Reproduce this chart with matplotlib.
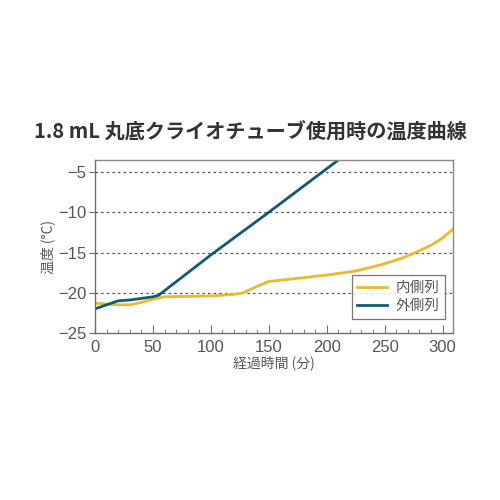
import matplotlib.pyplot as plt
from matplotlib.ticker import MultipleLocator

plt.rcParams["font.family"] = ["Noto Sans CJK JP", "DejaVu Sans"]

# data
t_outer = [0, 10, 20, 30, 40, 50, 55, 100, 150, 210]
temp_outer = [-22.0, -21.5, -21.0, -20.9, -20.7, -20.5, -20.3, -15.3, -10.0, -3.5]

t_inner = [0, 10, 20, 30, 40, 50, 60, 80, 100, 120, 128, 140, 150, 175, 200, 225,
           250, 265, 275, 290, 300, 309]
temp_inner = [-21.3, -21.4, -21.5, -21.5, -21.2, -20.8, -20.5, -20.45, -20.4, -20.2,
              -20.0, -19.2, -18.6, -18.2, -17.8, -17.3, -16.4, -15.7, -15.1, -14.1,
              -13.2, -12.1]

series_labels = ["内側列", "外側列"]
yellow = "#EAB92E"
teal = "#0F5B6D"
grey = "#6E6E6E"

fig = plt.figure(figsize=(5, 5), dpi=100)
ax = fig.add_axes([0.19, 0.334, 0.716, 0.346])

ax.plot(t_inner, temp_inner, color=yellow, lw=2, label=series_labels[0])
ax.plot(t_outer, temp_outer, color=teal, lw=2, label=series_labels[1])

ax.set_xlim(0, 309)
ax.set_ylim(-25, -3.5)
ax.set_xticks([0, 50, 100, 150, 200, 250, 300])
ax.xaxis.set_minor_locator(MultipleLocator(10))
ax.set_yticks([-25, -20, -15, -10, -5])
ax.set_yticklabels(["\u221225", "\u221220", "\u221215", "\u221210", "\u22125"])

for y in [-20, -15, -10, -5]:
    ax.axhline(y, color="#555555", lw=0.9, ls=(0, (2, 2.5)), zorder=0)

for s in ax.spines.values():
    s.set_color("#888888")
    s.set_linewidth(1.0)
ax.spines["left"].set_color(grey)
ax.spines["bottom"].set_color(grey)

ax.tick_params(axis="x", which="major", direction="in", length=6, color=grey,
               labelsize=12, labelcolor="#555555", pad=5)
ax.tick_params(axis="x", which="minor", direction="in", length=3, color=grey)
ax.tick_params(axis="y", direction="out", length=4, color=grey,
               labelsize=12, labelcolor="#555555", pad=2)
for lab in ax.get_xticklabels() + ax.get_yticklabels():
    lab.set_family(["Liberation Sans", "DejaVu Sans"])

ax.set_xlabel("経過時間 (分)", fontsize=10, color="#555555", labelpad=0)
ax.set_ylabel("温度 (°C)", fontsize=10, color="#555555", labelpad=2)

leg = ax.legend(loc="lower right", bbox_to_anchor=(0.978, 0.081), fontsize=10.5,
                frameon=True, fancybox=False, edgecolor="#555555",
                borderaxespad=0, handlelength=2.0, handletextpad=0.6,
                borderpad=0.4, labelspacing=0.3)
leg.get_frame().set_linewidth(0.9)
for txt in leg.get_texts():
    txt.set_color("#555555")

fig.text(0.5, 0.735, "1.8 mL 丸底クライオチューブ使用時の温度曲線", ha="center",
         va="center", fontsize=14.5, fontweight="bold", color="#333333")

fig.savefig("out.png", dpi=100, facecolor="white")
